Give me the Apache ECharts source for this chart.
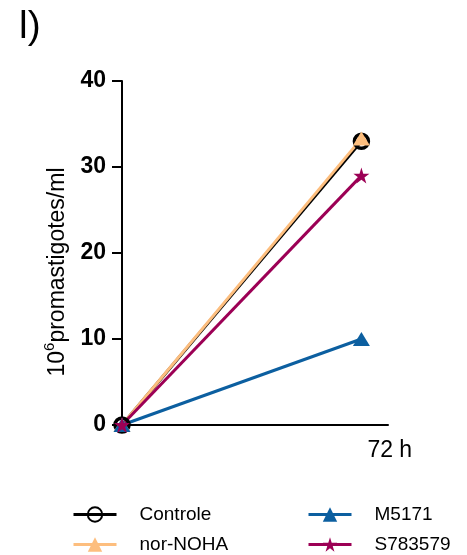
<!DOCTYPE html>
<html>
<head>
<meta charset="utf-8">
<style>html,body{margin:0;padding:0;background:#fff}#c{width:467px;height:555px}</style>
<script src="https://cdn.jsdelivr.net/npm/echarts@6/dist/echarts.min.js"></script>
</head>
<body>
<div id="c"></div>
<script>
const hours = [0, 72];
const controle = [0, 33.0];
const norNoha = [0, 33.3];
const m5171 = [0, 10.0];
const s783579 = [0, 29.0];
const seriesNames = ['Controle', 'nor-NOHA', 'M5171', 'S783579'];
const yTicks = [0, 10, 20, 30, 40];
const xLabelValues = [72];

const FONT = '"Liberation Sans", Arial, sans-serif';
const STAR = 'path://M50,0 L61.2,34.5 L97.6,34.5 L68.2,55.9 L79.4,90.5 L50,69.1 L20.6,90.5 L31.8,55.9 L2.4,34.5 L38.8,34.5 Z';

function pts(vals) { return hours.map((h, i) => [h, vals[i]]); }

function legendItem(name, left, top) {
  return {data: [name], orient: 'vertical', left: left, top: top, itemWidth: 43, itemHeight: 18,
    lineStyle: {width: 3},
    textStyle: {fontSize: 19, color: '#000', fontFamily: FONT, padding: [0, 0, 0, 18]}};
}

const chart = echarts.init(document.getElementById('c'), null, {renderer: 'canvas'});
chart.setOption({
  animation: false,
  textStyle: {fontFamily: FONT},
  title: {text: 'l)', left: 14, top: 3, textStyle: {fontFamily: FONT, fontSize: 39, fontWeight: 'normal', color: '#000'}},
  grid: {left: 122, right: 79, top: 81, bottom: 130, containLabel: false},
  xAxis: {
    type: 'value', min: 0, max: 80,
    axisLine: {show: true, lineStyle: {color: '#000', width: 2}},
    axisTick: {show: false},
    splitLine: {show: false},
    axisLabel: {customValues: xLabelValues, formatter: '{value} h', align: 'left', padding: [0, 0, 0, 6], margin: 14,
      fontSize: 23, color: '#000', fontFamily: FONT}
  },
  yAxis: {
    type: 'value', min: yTicks[0], max: yTicks[yTicks.length - 1], interval: 10,
    name: '{n|10}{sup|6}{n|promastigotes/ml}',
    nameLocation: 'middle', nameGap: 52,
    nameTextStyle: {
      padding: [0, 38, 0, 0],
      rich: {
        n: {fontSize: 23, color: '#000', fontFamily: FONT, verticalAlign: 'bottom', lineHeight: 26},
        sup: {fontSize: 15, color: '#000', fontFamily: FONT, verticalAlign: 'bottom', lineHeight: 15, padding: [0, 0, 12, 0]}
      }
    },
    axisLine: {show: true, lineStyle: {color: '#000', width: 2}},
    axisTick: {show: true, length: 10, lineStyle: {color: '#000', width: 2}},
    splitLine: {show: false},
    axisLabel: {margin: 16, fontSize: 23, fontWeight: 'bold', color: '#000', fontFamily: FONT}
  },
  legend: [
    legendItem(seriesNames[0], 67, 500),
    legendItem(seriesNames[1], 67, 530),
    legendItem(seriesNames[2], 302, 500),
    legendItem(seriesNames[3], 302, 530)
  ],
  series: [
    {name: seriesNames[0], type: 'line', data: pts(controle), clip: false, symbol: 'circle', symbolSize: 14,
     lineStyle: {color: '#000', width: 3}, itemStyle: {color: 'rgba(255,255,255,0)', borderColor: '#000', borderWidth: 3.5}},
    {name: seriesNames[1], type: 'line', data: pts(norNoha), clip: false, symbol: 'triangle', symbolSize: [17, 14],
     lineStyle: {color: '#FDBE7E', width: 3}, itemStyle: {color: '#FDBE7E'}},
    {name: seriesNames[2], type: 'line', data: pts(m5171), clip: false, symbol: 'triangle', symbolSize: [17, 14],
     lineStyle: {color: '#0C5FA0', width: 3}, itemStyle: {color: '#0C5FA0'}},
    {name: seriesNames[3], type: 'line', data: pts(s783579), clip: false, symbol: STAR, symbolSize: 16,
     lineStyle: {color: '#9C0055', width: 3}, itemStyle: {color: '#9C0055'}}
  ]
});
</script>
</body>
</html>
